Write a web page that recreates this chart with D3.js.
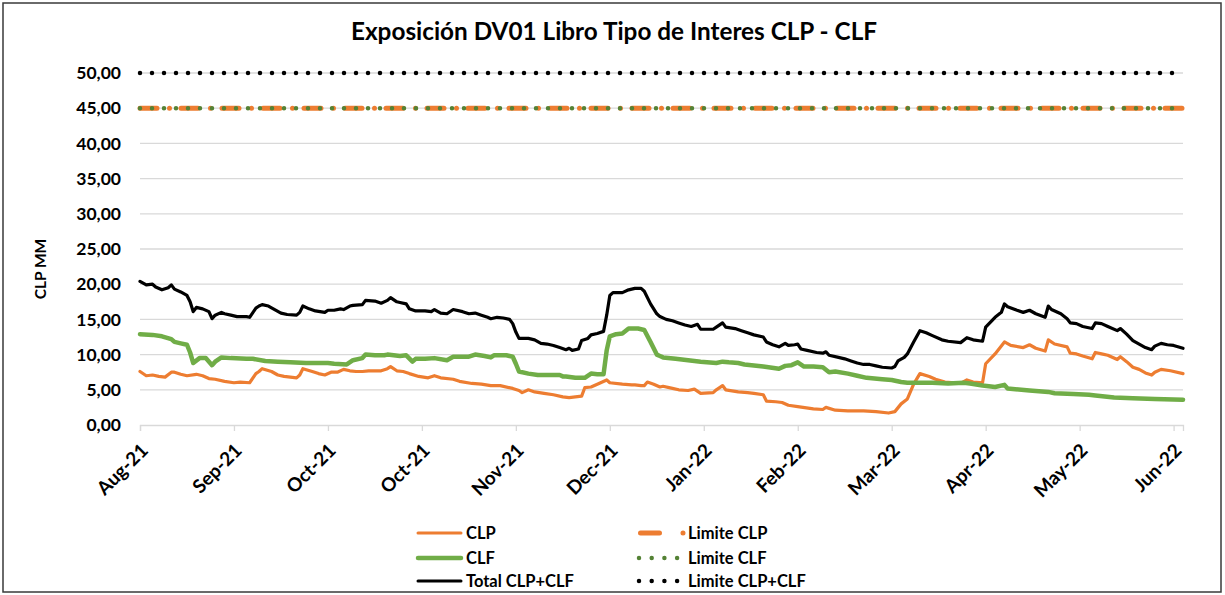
<!DOCTYPE html>
<html><head><meta charset="utf-8">
<script src="https://cdn.jsdelivr.net/npm/d3@7"></script>
<style>
body{margin:0;background:#fff}
text{font-family:Lato,"Open Sans",sans-serif;font-weight:bold;fill:#000}
</style>
</head><body>
<svg id="c" width="1225" height="595"></svg>
<script>
// ---------- DATA ----------
const titleText = "Exposición DV01 Libro Tipo de Interes CLP - CLF";
const yAxisTitle = "CLP MM";
const startDate = "2021-08-02";
const endDay = 333;
const yTicks = [0,5,10,15,20,25,30,35,40,45,50];
const xTickDays = [0,30,60,90,120,150,180,210,240,270,300,330];
const xTickLabels = ["Aug-21","Sep-21","Oct-21","Oct-21","Nov-21","Dec-21","Jan-22","Feb-22","Mar-22","Apr-22","May-22","Jun-22"];

// [day offset from startDate, value]
const clpSeries = [[0,7.6],[2,7.0],[4,7.1],[6,6.9],[8,6.8],[10,7.5],[11,7.5],[13,7.2],[15,7.0],[18,7.2],[20,7.0],[22,6.6],[24,6.5],[27,6.2],[30,6.0],[32,6.1],[35,6.0],[37,7.3],[38,7.6],[39,8.0],[42,7.6],[44,7.1],[46,6.9],[50,6.7],[51,7.1],[52,8.0],[55,7.6],[57,7.3],[59,7.1],[61,7.5],[63,7.5],[65,7.9],[67,7.7],[69,7.6],[71,7.6],[73,7.7],[77,7.7],[79,8.0],[80,8.3],[82,7.7],[84,7.6],[86,7.3],[89,6.9],[92,6.7],[94,7.0],[96,6.7],[100,6.5],[102,6.2],[106,5.9],[109,5.8],[112,5.6],[115,5.6],[119,5.2],[121,4.9],[122,4.6],[124,5.0],[126,4.7],[129,4.5],[132,4.3],[135,4.0],[137,3.9],[139,4.0],[141,4.1],[142,5.3],[144,5.4],[146,5.8],[149,6.4],[150,6.0],[154,5.8],[157,5.7],[158,5.7],[160,5.6],[161,5.6],[162,6.1],[164,5.8],[166,5.4],[167,5.5],[170,5.2],[172,5.0],[175,4.9],[177,5.1],[179,4.5],[183,4.6],[184,5.0],[186,5.6],[187,5.0],[191,4.7],[194,4.6],[196,4.5],[199,4.3],[200,3.4],[203,3.3],[205,3.2],[207,2.8],[210,2.6],[215,2.3],[218,2.2],[219,2.5],[222,2.1],[226,2.0],[231,2.0],[235,1.9],[239,1.7],[241,1.9],[243,3.0],[245,3.7],[247,5.8],[249,7.3],[252,6.9],[254,6.5],[257,6.1],[262,5.9],[264,6.4],[266,6.1],[269,6.0],[270,8.7],[273,10.1],[276,11.8],[278,11.3],[282,11.0],[284,11.4],[286,10.9],[289,10.5],[290,12.1],[292,11.5],[296,11.1],[297,10.2],[299,10.1],[301,9.8],[304,9.4],[305,10.3],[307,10.1],[309,9.9],[312,9.3],[313,9.7],[315,9.0],[317,8.2],[319,7.9],[321,7.4],[323,7.1],[324,7.5],[326,7.9],[329,7.7],[333,7.3]];

const clfSeries = [[0,12.9],[4,12.8],[7,12.6],[10,12.2],[11,11.8],[13,11.6],[15,11.4],[16,10.3],[17,8.8],[19,9.5],[21,9.5],[23,8.5],[24,9.0],[26,9.6],[29,9.5],[34,9.4],[36,9.4],[40,9.1],[44,9.0],[48,8.9],[53,8.8],[57,8.8],[60,8.8],[62,8.7],[66,8.6],[68,9.2],[71,9.5],[72,10.0],[75,9.9],[78,9.9],[79,10.0],[83,9.8],[85,9.9],[87,9.0],[88,9.4],[91,9.4],[94,9.5],[98,9.2],[100,9.7],[103,9.7],[105,9.7],[107,10.0],[110,9.8],[112,9.6],[113,9.9],[117,9.9],[119,9.7],[120,8.7],[121,7.6],[124,7.3],[127,7.1],[131,7.1],[134,7.1],[135,6.9],[136,6.9],[139,6.7],[142,6.7],[144,7.3],[146,7.2],[148,7.2],[149,10.6],[150,12.6],[152,12.9],[154,13.0],[156,13.7],[159,13.7],[161,13.5],[163,11.8],[165,10.0],[166,9.8],[167,9.6],[171,9.4],[175,9.2],[179,9.0],[184,8.8],[186,9.0],[188,8.9],[191,8.8],[193,8.6],[199,8.3],[204,8.0],[206,8.4],[208,8.5],[210,8.9],[212,8.3],[215,8.3],[218,8.2],[220,7.5],[222,7.6],[226,7.3],[229,7.0],[232,6.7],[237,6.5],[240,6.4],[243,6.1],[245,6.0],[249,6.0],[253,6.0],[258,5.9],[263,6.0],[265,5.9],[269,5.6],[273,5.4],[276,5.7],[277,5.2],[284,4.9],[290,4.7],[292,4.5],[298,4.4],[303,4.3],[305,4.2],[311,3.9],[317,3.8],[324,3.7],[333,3.6]];

const totalSeries = [[0,20.4],[2,19.9],[4,20.0],[5,19.6],[7,19.2],[9,19.5],[10,19.9],[11,19.3],[13,18.9],[15,18.4],[16,17.5],[17,16.1],[18,16.7],[20,16.5],[22,16.1],[23,15.1],[24,15.6],[26,16.0],[27,15.8],[29,15.6],[31,15.4],[34,15.4],[35,15.3],[37,16.6],[38,16.9],[39,17.1],[41,16.9],[43,16.4],[45,15.9],[47,15.7],[50,15.6],[51,16.0],[52,16.9],[54,16.5],[56,16.2],[59,16.0],[60,16.3],[62,16.3],[64,16.5],[65,16.4],[67,16.9],[68,17.0],[71,17.1],[72,17.7],[75,17.6],[77,17.3],[79,17.7],[80,18.1],[82,17.5],[83,17.4],[85,17.2],[86,16.5],[88,16.2],[91,16.2],[93,16.1],[94,16.4],[96,15.9],[98,15.8],[100,16.4],[103,16.1],[105,15.8],[107,15.9],[109,15.6],[111,15.3],[112,15.1],[114,15.3],[116,15.2],[118,15.0],[119,14.4],[120,13.2],[121,12.3],[124,12.3],[126,12.1],[128,11.6],[130,11.5],[132,11.3],[134,11.0],[136,10.7],[137,10.9],[138,10.6],[140,10.8],[141,12.0],[143,12.3],[144,12.8],[146,13.0],[148,13.3],[149,15.6],[150,18.4],[151,18.8],[154,18.8],[156,19.2],[158,19.4],[160,19.4],[161,19.0],[163,17.2],[165,15.8],[166,15.4],[168,15.0],[170,14.8],[172,14.5],[174,14.2],[176,14.0],[178,14.3],[179,13.6],[183,13.6],[184,13.9],[186,14.5],[187,13.9],[190,13.7],[192,13.4],[194,13.1],[196,12.8],[199,12.5],[200,11.8],[202,11.4],[204,11.1],[206,11.6],[207,11.3],[209,11.4],[210,11.5],[211,10.8],[213,10.6],[216,10.3],[218,10.2],[219,10.4],[220,9.9],[223,9.6],[225,9.4],[227,9.1],[229,8.8],[231,8.6],[233,8.6],[235,8.4],[237,8.2],[240,8.1],[241,8.3],[242,9.1],[244,9.6],[245,10.1],[247,11.8],[249,13.4],[251,13.1],[253,12.7],[256,12.1],[258,11.9],[262,11.7],[264,12.4],[266,12.1],[269,11.9],[270,13.9],[273,15.3],[275,16.0],[276,17.2],[277,16.8],[280,16.3],[282,16.0],[284,16.3],[286,15.8],[289,15.3],[290,16.9],[291,16.4],[294,15.8],[296,15.1],[297,14.5],[299,14.4],[301,14.0],[304,13.7],[305,14.5],[307,14.4],[309,14.0],[312,13.4],[313,13.7],[315,12.9],[317,12.0],[319,11.5],[321,11.0],[323,10.7],[324,11.2],[326,11.6],[328,11.4],[330,11.3],[333,10.9]];

const limitCLP = 45;
const limitCLF = 45;
const limitTotal = 50;

const legendLeft = ["CLP","CLF","Total CLP+CLF"];
const legendRight = ["Limite CLP","Limite CLF","Limite CLP+CLF"];

// ---------- CHART ----------
const svg = d3.select("#c");
svg.append("rect").attr("width",1225).attr("height",595).attr("fill","#fff");
svg.append("rect").attr("x",3).attr("y",3).attr("width",1218).attr("height",589)
  .attr("fill","none").attr("stroke","#3a3a3a").attr("stroke-width",1.5);

const parse = d3.timeParse("%Y-%m-%d");
const t0 = parse(startDate);
const toDate = d => d3.timeDay.offset(t0, d);

const x = d3.scaleTime().domain([t0, toDate(endDay)]).range([140, 1183]);
const y = d3.scaleLinear().domain([0, 50]).range([425, 73]);

// title
svg.append("text").attr("x", 614).attr("y", 40).attr("text-anchor","middle")
  .style("font-size","24.3px").text(titleText);

// gridlines
svg.append("g").selectAll("line").data(yTicks.filter(v=>v>0)).join("line")
  .attr("x1", 140).attr("x2", 1183).attr("y1", d=>y(d)).attr("y2", d=>y(d))
  .attr("stroke","#d9d9d9").attr("stroke-width",1.3);

// y axis
const yAxis = svg.append("g").attr("transform","translate(140,0)")
  .call(d3.axisLeft(y).tickValues(yTicks).tickSize(0).tickPadding(19)
    .tickFormat(d => d3.format(".2f")(d).replace(".", ",")));
yAxis.select(".domain").remove();
yAxis.selectAll("text").style("font-size","17.5px").style("font-family","Lato,'Open Sans',sans-serif").attr("fill","#000");

// y title
svg.append("text").attr("transform","translate(46,269) rotate(-90)")
  .attr("text-anchor","middle").style("font-size","15.5px").text(yAxisTitle);

// x axis
const xAxis = svg.append("g").attr("transform","translate(0,425)")
  .call(d3.axisBottom(x).tickValues(xTickDays.map(toDate)).tickSize(6)
    .tickFormat((d,i) => xTickLabels[i]));
xAxis.select(".domain").attr("stroke","#d9d9d9").attr("stroke-width",1.3);
xAxis.selectAll(".tick line").attr("stroke","#d9d9d9").attr("stroke-width",1.3);
xAxis.selectAll("text").attr("x",0).attr("y",0).attr("dy","0.35em")
  .attr("transform","translate(4,22) rotate(-45)")
  .style("text-anchor","end").style("font-size","19px")
  .style("font-family","Lato,'Open Sans',sans-serif").attr("fill","#000");

const line = d3.line().x(d => x(toDate(d[0]))).y(d => y(d[1]));

// limit lines
const span = [0, endDay];
svg.append("path").datum(span.map(d=>[d, limitCLP])).attr("d", line)
  .attr("fill","none").attr("stroke","#ED7D31").attr("stroke-width",5)
  .attr("stroke-linecap","round").attr("stroke-dasharray","17,12.5,0,11.5");
svg.append("path").datum(span.map(d=>[d, limitCLF])).attr("d", line)
  .attr("fill","none").attr("stroke","#548235").attr("stroke-width",4.5)
  .attr("stroke-linecap","round").attr("stroke-dasharray","0,12");
svg.append("path").datum(span.map(d=>[d, limitTotal])).attr("d", line)
  .attr("fill","none").attr("stroke","#000").attr("stroke-width",4.5)
  .attr("stroke-linecap","round").attr("stroke-dasharray","0,12");

// data lines
svg.append("path").datum(clpSeries).attr("d", line)
  .attr("fill","none").attr("stroke","#ED7D31").attr("stroke-width",3.2)
  .attr("stroke-linejoin","round").attr("stroke-linecap","round");
svg.append("path").datum(clfSeries).attr("d", line)
  .attr("fill","none").attr("stroke","#70AD47").attr("stroke-width",4.5)
  .attr("stroke-linejoin","round").attr("stroke-linecap","round");
svg.append("path").datum(totalSeries).attr("d", line)
  .attr("fill","none").attr("stroke","#000").attr("stroke-width",3.2)
  .attr("stroke-linejoin","round").attr("stroke-linecap","round");

// legend
const rowsY = [533, 558, 581];
const leftStyles = [
  {c:"#ED7D31", w:3},
  {c:"#70AD47", w:4.5},
  {c:"#000", w:3}
];
const lg = svg.append("g");
legendLeft.forEach((lab,i)=>{
  lg.append("line").attr("x1",418).attr("x2",461).attr("y1",rowsY[i]).attr("y2",rowsY[i])
    .attr("stroke",leftStyles[i].c).attr("stroke-width",leftStyles[i].w).attr("stroke-linecap","round");
  lg.append("text").attr("x",466).attr("y",rowsY[i]).attr("dy","0.36em")
    .style("font-size","16.5px").text(lab);
});
const rightStyles = [
  {c:"#ED7D31", w:5, dash:"19,23.5,0,100"},
  {c:"#548235", w:4.5, dash:"0,12.7"},
  {c:"#000", w:4.5, dash:"0,12.7"}
];
legendRight.forEach((lab,i)=>{
  lg.append("line").attr("x1",i===0?640.5:639).attr("x2",684).attr("y1",rowsY[i]).attr("y2",rowsY[i])
    .attr("stroke",rightStyles[i].c).attr("stroke-width",rightStyles[i].w)
    .attr("stroke-linecap","round").attr("stroke-dasharray",rightStyles[i].dash);
  lg.append("text").attr("x",688).attr("y",rowsY[i]).attr("dy","0.36em")
    .style("font-size","16.5px").text(lab);
});
</script>
</body></html>
